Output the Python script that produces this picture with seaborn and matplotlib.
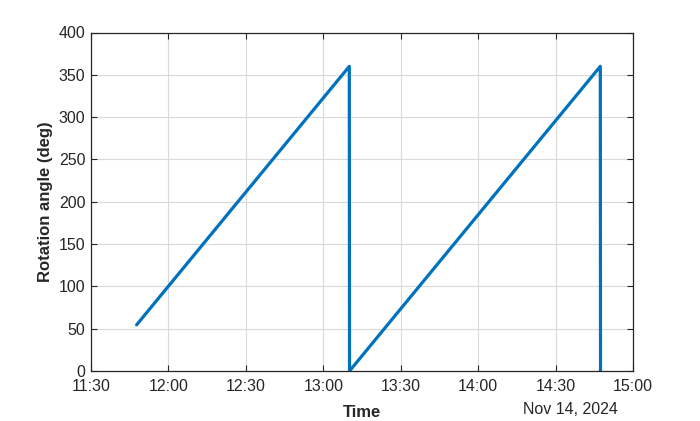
import matplotlib
matplotlib.use("Agg")
import matplotlib.pyplot as plt
import matplotlib.dates as mdates
import seaborn as sns
import pandas as pd

times = ["2024-11-14 11:47:40", "2024-11-14 13:10:05", "2024-11-14 13:10:10",
         "2024-11-14 14:47:20", "2024-11-14 14:47:25"]
angles = [54.5, 360, 0, 360, 0]
xticks = ["11:30", "12:00", "12:30", "13:00", "13:30", "14:00", "14:30", "15:00"]
yticks = [0, 50, 100, 150, 200, 250, 300, 350, 400]

sns.set_theme(style="white")
plt.rcParams['font.family'] = ['Liberation Sans', 'DejaVu Sans']

df = pd.DataFrame({"Time": pd.to_datetime(times), "angle": angles})

fig = plt.figure(figsize=(7, 4.21), dpi=100)
ax = fig.add_axes([91/700, 1-371/421, (633-91)/700, (371-32.5)/421])
sns.lineplot(data=df, x="Time", y="angle", sort=False, estimator=None,
             color="#0072BD", linewidth=2.3, ax=ax)

tick_pos = pd.to_datetime(["2024-11-14 " + t for t in xticks])
ax.set_xlim(tick_pos[0], tick_pos[-1])
ax.set_xticks(tick_pos)
ax.set_xticklabels(xticks)
ax.set_ylim(0, 400)
ax.set_yticks(yticks)
ax.grid(True, color="#d9d9d9", linewidth=0.8)
ax.set_axisbelow(True)
for s in ax.spines.values():
    s.set_color("#262626")
    s.set_linewidth(0.9)
    s.set_visible(True)
ax.tick_params(direction="in", length=4.5, width=0.8, colors="#262626",
               labelsize=11.5, top=True, right=True, bottom=True, left=True,
               pad=4)
ax.tick_params(axis='x', pad=6)
ax.set_xlabel("Time", fontsize=12, fontweight="bold", color="#262626", labelpad=8)
ax.set_ylabel("Rotation angle (deg)", fontsize=12, fontweight="bold", color="#262626", labelpad=4)
fig.text(570/700, 1-409/421, "Nov 14, 2024", ha="center", va="center",
         fontsize=11.5, color="#262626")
fig.savefig("out.png", dpi=100)
